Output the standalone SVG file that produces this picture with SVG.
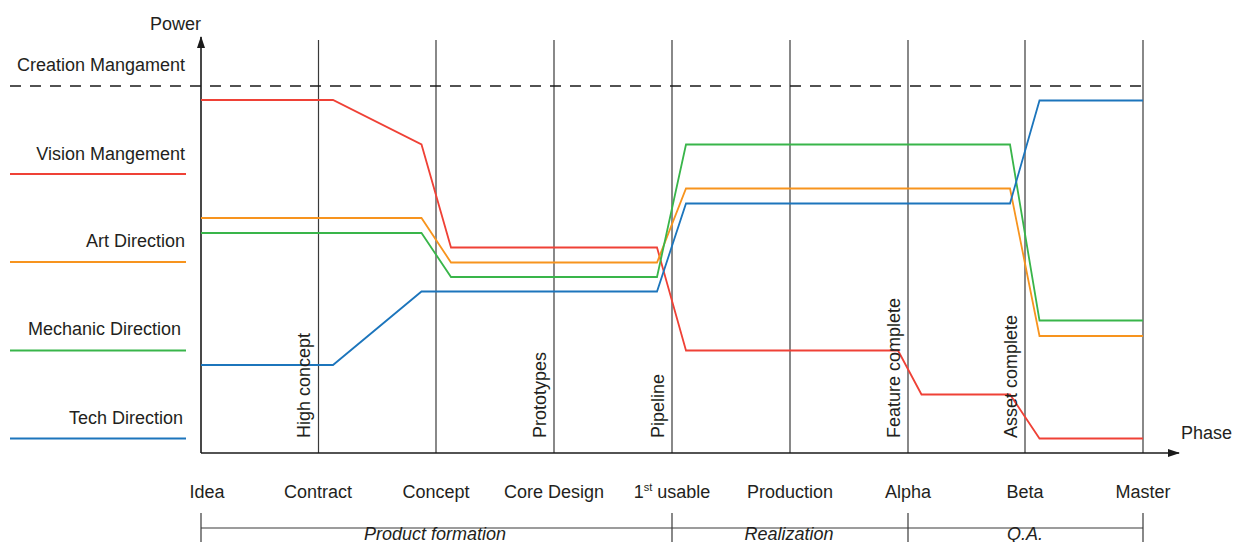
<svg xmlns="http://www.w3.org/2000/svg" width="1234" height="542" viewBox="0 0 1234 542">
<style>
text{font-family:"Liberation Sans",Arial,sans-serif;font-size:18px;fill:#231f20}
.it{font-style:italic}
.div{stroke:#3a3a3a;stroke-width:1.2;fill:none}
.ax{stroke:#1a1a1a;stroke-width:1.6;fill:none}
.s{fill:none;stroke-width:1.8;stroke-linejoin:miter}
.red{stroke:#ef4136}.org{stroke:#f7941e}.grn{stroke:#39b54a}.blu{stroke:#1c75bc}
</style>
<defs>
<marker id="arr" viewBox="0 0 12 8" refX="11" refY="4" markerWidth="12" markerHeight="8" markerUnits="userSpaceOnUse" orient="auto">
<path d="M0,0 L12,4 L0,8 Z" fill="#1a1a1a"/>
</marker>
</defs>
<rect width="1234" height="542" fill="#fff"/>
<g id="dividers">
<line class="div" x1="318.5" y1="40" x2="318.5" y2="453"/>
<line class="div" x1="436" y1="40" x2="436" y2="453"/>
<line class="div" x1="554" y1="40" x2="554" y2="453"/>
<line class="div" x1="672" y1="40" x2="672" y2="453"/>
<line class="div" x1="790" y1="40" x2="790" y2="453"/>
<line class="div" x1="908" y1="40" x2="908" y2="453"/>
<line class="div" x1="1025" y1="40" x2="1025" y2="453"/>
<line class="div" x1="1143" y1="40" x2="1143" y2="453"/>
</g>
<g id="creation-limit">
<line x1="10" y1="86" x2="1143" y2="86" stroke="#1a1a1a" stroke-width="1.6" stroke-dasharray="11 9"/>
</g>
<g id="axes">
<line class="ax" x1="201" y1="453" x2="201" y2="37" marker-end="url(#arr)"/>
<line class="ax" x1="201" y1="453" x2="1179" y2="453" marker-end="url(#arr)"/>
<text x="201" y="30" text-anchor="end">Power</text>
<text x="1232" y="439" text-anchor="end" font-size="17">Phase</text>
</g>
<g id="legend">
<text x="185" y="71" text-anchor="end">Creation Mangament</text>
<text x="185" y="159.5" text-anchor="end">Vision Mangement</text>
<line class="s red" x1="10" y1="174" x2="186" y2="174"/>
<text x="185" y="247" text-anchor="end">Art Direction</text>
<line class="s org" x1="10" y1="262" x2="186" y2="262"/>
<text x="181" y="335" text-anchor="end">Mechanic Direction</text>
<line class="s grn" x1="10" y1="350.5" x2="186" y2="350.5"/>
<text x="183" y="424" text-anchor="end">Tech Direction</text>
<line class="s blu" x1="10" y1="438.5" x2="186" y2="438.5"/>
</g>
<g id="series">
<polyline id="vision" class="s red" points="201,100 333,100 421.5,144.5 451,247.5 657,247.5 686,350.5 898,350.5 921.5,394.5 1010,394.5 1039.5,438.5 1143,438.5"/>
<polyline id="art" class="s org" points="201,218 421.5,218 451,262.5 657,262.5 686,188.5 1010,188.5 1039.5,336 1143,336"/>
<polyline id="mechanic" class="s grn" points="201,233 421.5,233 451,277 657,277 686,144.5 1010,144.5 1039.5,320.5 1143,320.5"/>
<polyline id="tech" class="s blu" points="201,365 333,365 421.5,291.5 657,291.5 686,203.5 1010,203.5 1039.5,100.5 1143,100.5"/>
</g>
<g id="milestones">
<text transform="translate(310,438) rotate(-90)">High concept</text>
<text transform="translate(546,438) rotate(-90)">Prototypes</text>
<text transform="translate(664,438) rotate(-90)">Pipeline</text>
<text transform="translate(900,438) rotate(-90)">Feature complete</text>
<text transform="translate(1017,438) rotate(-90)">Asset complete</text>
</g>
<g id="phases" text-anchor="middle">
<text x="207" y="498">Idea</text>
<text x="318" y="498">Contract</text>
<text x="436" y="498">Concept</text>
<text x="554" y="498">Core Design</text>
<text x="672" y="498">1<tspan font-size="11" dy="-7">st</tspan><tspan dy="7"> usable</tspan></text>
<text x="790" y="498">Production</text>
<text x="908" y="498">Alpha</text>
<text x="1025" y="498">Beta</text>
<text x="1143" y="498">Master</text>
</g>
<g id="stages">
<line class="div" x1="201" y1="528" x2="1143" y2="528"/>
<line class="div" x1="201" y1="513" x2="201" y2="542"/>
<line class="div" x1="672" y1="513" x2="672" y2="542"/>
<line class="div" x1="908" y1="513" x2="908" y2="542"/>
<line class="div" x1="1143" y1="513" x2="1143" y2="542"/>
<text class="it" x="435" y="540" font-size="17" text-anchor="middle">Product formation</text>
<text class="it" x="789" y="540" font-size="17" text-anchor="middle">Realization</text>
<text class="it" x="1025" y="540" font-size="17" text-anchor="middle">Q.A.</text>
</g>
</svg>
